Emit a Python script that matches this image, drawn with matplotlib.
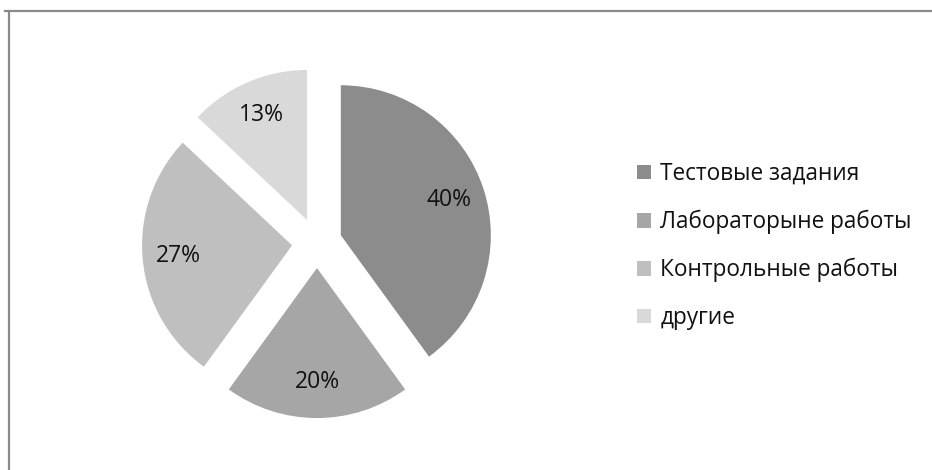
import matplotlib
matplotlib.use("Agg")
import matplotlib.pyplot as plt
from matplotlib.lines import Line2D
from matplotlib.patches import Patch

categories = ["Тестовые задания", "Лабораторыне работы", "Контрольные работы", "другие"]
shares = [40, 20, 27, 13]
colors = ["#8c8c8c", "#a6a6a6", "#bfbfbf", "#d9d9d9"]

plt.rcParams["font.family"] = ["Open Sans", "DejaVu Sans"]

W, H = 932, 470
fig = plt.figure(figsize=(W / 100, H / 100), dpi=100)

# pie centre ~ (317, 243) px, radius ~150 px
r_px = 150
lim = 1.3
size = 2 * lim * r_px
cx, cy = 317, H - 243
ax = fig.add_axes([(cx - size / 2) / W, (cy - size / 2) / H, size / W, size / H])

wedges, texts, autotexts = ax.pie(
    shares, colors=colors, startangle=90, counterclock=False,
    explode=[0.167] * len(shares), autopct="%d%%", pctdistance=0.76,
    textprops={"fontsize": 16.5, "color": "#111111"},
    wedgeprops={"linewidth": 0},
)
ax.set_xlim(-lim, lim)
ax.set_ylim(-lim, lim)
ax.set_aspect("equal")
ax.axis("off")

handles = [Patch(facecolor=c, edgecolor="none") for c in colors]
fig.legend(handles, categories, loc="upper left",
           bbox_to_anchor=(628 / W, 1 - 153 / H), frameon=False,
           fontsize=16.3, handlelength=0.62, handleheight=0.62,
           handletextpad=0.4, labelspacing=1.05, borderaxespad=0,
           labelcolor="#111111")

# chart frame (only top and left edges visible)
fig.add_artist(Line2D([5 / W, 1], [1 - 11 / H, 1 - 11 / H], color="#8a8a8a", lw=1.6))
fig.add_artist(Line2D([8.5 / W, 8.5 / W], [0, 1 - 11 / H], color="#8a8a8a", lw=1.6))

fig.savefig("out.png", dpi=100)
